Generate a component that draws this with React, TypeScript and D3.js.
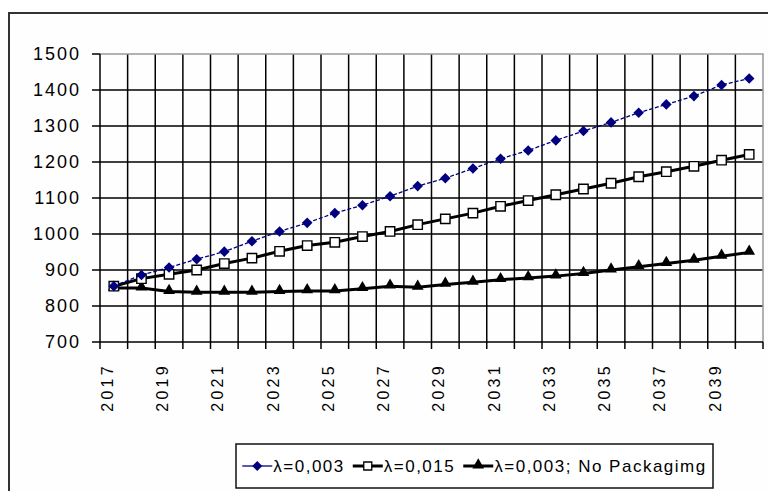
import React, { useEffect, useRef } from 'react';
import * as d3 from 'd3';

const years = [
  '2017', '2018', '2019', '2020', '2021', '2022', '2023', '2024',
  '2025', '2026', '2027', '2028', '2029', '2030', '2031', '2032',
  '2033', '2034', '2035', '2036', '2037', '2038', '2039', '2040',
];
const shownYears = ['2017', '2019', '2021', '2023', '2025', '2027', '2029', '2031', '2033', '2035', '2037', '2039'];
const yTicks = [700, 800, 900, 1000, 1100, 1200, 1300, 1400, 1500];

const lambda003 = [
  855, 886, 907, 930, 951, 980, 1007, 1031, 1058, 1080, 1105, 1133,
  1155, 1182, 1209, 1232, 1260, 1286, 1310, 1337, 1360, 1383, 1414, 1432,
];
const lambda015 = [
  855, 876, 888, 900, 918, 933, 952, 968, 977, 993, 1007, 1026,
  1042, 1058, 1077, 1093, 1109, 1125, 1141, 1159, 1173, 1188, 1205, 1221,
];
const noPackaging = [
  850, 850, 840, 838, 838, 838, 840, 842, 842, 848, 855, 852,
  860, 866, 873, 878, 883, 890, 900, 909, 918, 927, 938, 949,
];
const seriesNames = ['λ=0,003', 'λ=0,015', 'λ=0,003; No Packagimg'];

const App = () => {
  const svgRef = useRef(null);

  useEffect(() => {
    const width = 768;
    const height = 491;
    const plot = { left: 100, right: 763, top: 54, bottom: 342 };
    const font = '"Liberation Sans", Arial, sans-serif';

    const svg = d3.select(svgRef.current);
    svg.selectAll('*').remove();
    svg.attr('width', width).attr('height', height);

    svg.append('rect').attr('width', width).attr('height', height).attr('fill', '#fff');
    // outer chart frame
    svg
      .append('rect')
      .attr('x', 9)
      .attr('y', 13)
      .attr('width', 780)
      .attr('height', 500)
      .attr('fill', '#fefefe')
      .attr('stroke', '#333')
      .attr('stroke-width', 2);

    const x = d3.scaleBand().domain(years).range([plot.left, plot.right]).padding(0);
    const y = d3.scaleLinear().domain([700, 1500]).range([plot.bottom, plot.top]);
    const cx = (d) => x(d) + x.bandwidth() / 2;

    // gridlines
    const grid = svg.append('g').attr('stroke', '#000').attr('stroke-width', 1.5);
    yTicks
      .filter((t) => t > 700 && t < 1500)
      .forEach((t) => {
        grid.append('line').attr('x1', plot.left).attr('x2', plot.right).attr('y1', y(t)).attr('y2', y(t));
      });
    years.slice(1).forEach((yr) => {
      grid.append('line').attr('x1', x(yr)).attr('x2', x(yr)).attr('y1', plot.top).attr('y2', plot.bottom);
    });

    // plot border (top / right)
    svg
      .append('path')
      .attr('d', `M${plot.left},${plot.top}H${plot.right}V${plot.bottom}`)
      .attr('fill', 'none')
      .attr('stroke', '#999')
      .attr('stroke-width', 1.5);

    // axes
    const axes = svg.append('g').attr('stroke', '#000').attr('stroke-width', 1.5);
    axes.append('line').attr('x1', plot.left).attr('x2', plot.left).attr('y1', plot.top).attr('y2', plot.bottom);
    axes.append('line').attr('x1', plot.left).attr('x2', plot.right).attr('y1', plot.bottom).attr('y2', plot.bottom);
    yTicks.forEach((t) => {
      axes.append('line').attr('x1', plot.left - 8).attr('x2', plot.left).attr('y1', y(t)).attr('y2', y(t));
    });
    years.concat(['end']).forEach((yr, i) => {
      const xx = plot.left + i * x.bandwidth();
      axes.append('line').attr('x1', xx).attr('x2', xx).attr('y1', plot.bottom).attr('y2', plot.bottom + 7);
    });

    // y labels
    svg
      .append('g')
      .selectAll('text')
      .data(yTicks)
      .join('text')
      .attr('x', 81)
      .attr('y', (d) => y(d))
      .attr('dy', '0.36em')
      .attr('text-anchor', 'end')
      .attr('font-family', font)
      .attr('font-size', 18)
      .attr('letter-spacing', 2)
      .attr('fill', '#000')
      .text((d) => d);

    // x labels
    svg
      .append('g')
      .selectAll('text')
      .data(shownYears)
      .join('text')
      .attr('transform', (d) => `translate(${cx(d) - 1},${363}) rotate(-90)`)
      .attr('text-anchor', 'end')
      .attr('font-family', font)
      .attr('font-size', 16)
      .attr('letter-spacing', 3.3)
      .attr('fill', '#000')
      .text((d) => d);

    const line = d3
      .line()
      .x((d, i) => cx(years[i]))
      .y((d) => y(d));

    // series: no packaging
    svg
      .append('path')
      .datum(noPackaging)
      .attr('d', line)
      .attr('fill', 'none')
      .attr('stroke', '#000')
      .attr('stroke-width', 3);
    svg
      .append('g')
      .selectAll('path')
      .data(noPackaging)
      .join('path')
      .attr('d', d3.symbol(d3.symbolTriangle, 60))
      .attr('transform', (d, i) => `translate(${cx(years[i])},${y(d) - 1})`)
      .attr('fill', '#000');

    // series: lambda 0.015
    svg
      .append('path')
      .datum(lambda015)
      .attr('d', line)
      .attr('fill', 'none')
      .attr('stroke', '#000')
      .attr('stroke-width', 3);
    svg
      .append('g')
      .selectAll('path')
      .data(lambda015)
      .join('path')
      .attr('d', d3.symbol(d3.symbolSquare, 88))
      .attr('transform', (d, i) => `translate(${cx(years[i])},${y(d)})`)
      .attr('fill', '#fff')
      .attr('stroke', '#000')
      .attr('stroke-width', 1.4);

    // series: lambda 0.003
    svg
      .append('path')
      .datum(lambda003)
      .attr('d', line)
      .attr('fill', 'none')
      .attr('stroke', '#000080')
      .attr('stroke-width', 1.3)
      .attr('stroke-dasharray', '4 2');
    svg
      .append('g')
      .selectAll('path')
      .data(lambda003)
      .join('path')
      .attr('d', d3.symbol(d3.symbolSquare, 56))
      .attr('transform', (d, i) => `translate(${cx(years[i])},${y(d)}) rotate(45)`)
      .attr('fill', '#000080');

    // legend
    const lg = { left: 236, right: 713, top: 444, bottom: 488 };
    svg
      .append('rect')
      .attr('x', lg.left)
      .attr('y', lg.top)
      .attr('width', lg.right - lg.left)
      .attr('height', lg.bottom - lg.top)
      .attr('fill', '#fff')
      .attr('stroke', '#111')
      .attr('stroke-width', 1.5);

    const legend = svg.append('g');
    const midY = (lg.top + lg.bottom) / 2;
    let cursor = lg.left + 6;
    seriesNames.forEach((name, i) => {
      const g = legend.append('g').attr('transform', `translate(${cursor},0)`);
      const lineW = 30;
      g.append('line')
        .attr('x1', 0)
        .attr('x2', lineW)
        .attr('y1', midY)
        .attr('y2', midY)
        .attr('stroke', i === 0 ? '#000080' : '#000')
        .attr('stroke-width', i === 0 ? 1.3 : 3);
      if (i === 0) {
        g.append('path')
          .attr('d', d3.symbol(d3.symbolSquare, 50))
          .attr('transform', `translate(${lineW / 2},${midY}) rotate(45)`)
          .attr('fill', '#000080');
      } else if (i === 1) {
        g.append('path')
          .attr('d', d3.symbol(d3.symbolSquare, 64))
          .attr('transform', `translate(${lineW / 2},${midY})`)
          .attr('fill', '#fff')
          .attr('stroke', '#000')
          .attr('stroke-width', 1.3);
      } else {
        g.append('path')
          .attr('d', d3.symbol(d3.symbolTriangle, 60))
          .attr('transform', `translate(${lineW / 2},${midY - 1})`)
          .attr('fill', '#000');
      }
      const t = g
        .append('text')
        .attr('x', lineW + 1)
        .attr('y', midY)
        .attr('dy', '0.36em')
        .attr('font-family', font)
        .attr('font-size', 17)
        .attr('letter-spacing', 1.5)
        .attr('fill', '#000')
        .text(name);
      const w = t.node().getComputedTextLength();
      cursor += lineW + 1 + w + 8;
    });
    // center the entries in the box
    const used = cursor - 8 - (lg.left + 6);
    const shift = (lg.right - lg.left - used) / 2 - 6;
    legend.attr('transform', `translate(${shift},0)`);
  }, []);

  return (
    <svg
      ref={svgRef}
      style={{ position: 'absolute', left: 0, top: 0, display: 'block' }}
    ></svg>
  );
};

export default App;
